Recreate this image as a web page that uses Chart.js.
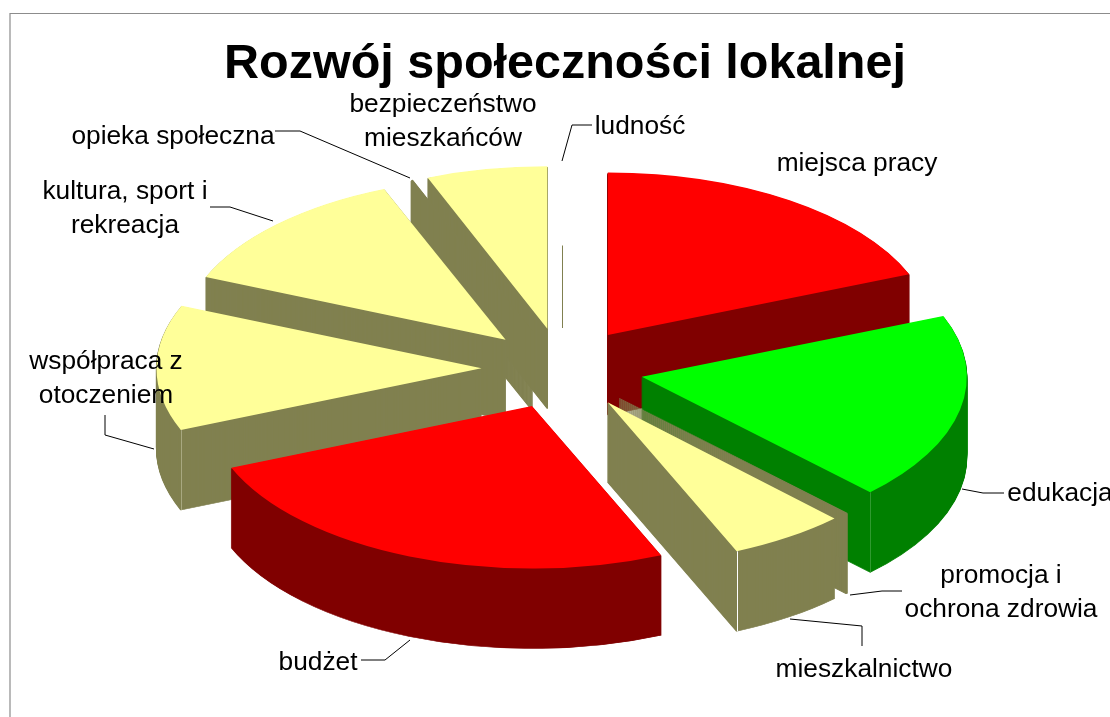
<!DOCTYPE html>
<html>
<head>
<meta charset="utf-8">
<title>Rozwój społeczności lokalnej</title>
<script src="https://cdn.jsdelivr.net/npm/chart.js@4"></script>
<style>
  html, body { margin: 0; padding: 0; background: #fff; overflow: hidden; }
  canvas { display: block; }
</style>
</head>
<body>
<canvas id="chart" width="1110" height="717"></canvas>
<script>
const chartTitle = 'Rozwój społeczności lokalnej';

const categories = [
  'ludność', 'miejsca pracy', 'edukacja', 'promocja i\nochrona zdrowia', 'mieszkalnictwo',
  'budżet', 'współpraca z\notoczeniem', 'kultura, sport i\nrekreacja', 'opieka społeczna',
  'bezpieczeństwo\nmieszkańców'
];
// share of the pie in percent
const shares = [0, 18.9, 18.7, 0.1, 5.8, 25.3, 12.5, 12.6, 0.1, 6.0];

// the two hairline slices show no top at all, only their wall
const topColors = ['#ffff99', '#ff0000', '#00ff00', '#808050', '#ffff99', '#ff0000', '#ffff99', '#ffff99', '#808050', '#ffff99'];
const sideColors = ['#808050', '#800000', '#008000', '#808050', '#808050', '#800000', '#808050', '#808050', '#808050', '#808050'];

// how the flat pie gets turned into the tilted one
const pie = { x: 562.5, y: 368.5, radius: 325, tilt: 0.5, depth: 80, explode: 81 };

// label text position (centre x, first line middle y) and its leader line
const labelSpots = [
  { x: 640, y: 127, leader: [[592, 125], [572, 125], [562, 161]] },
  { x: 857, y: 164 },
  { x: 1060, y: 494, leader: [[1004, 493], [983, 493], [962, 489]] },
  { x: 1001, y: 576, leader: [[902, 591], [882, 591], [850, 595]] },
  { x: 864, y: 670, leader: [[862, 646], [862, 626], [790, 619]] },
  { x: 318, y: 663, leader: [[361, 660], [385, 660], [410, 640]] },
  { x: 106, y: 362, leader: [[105, 415], [105, 435], [154, 449]] },
  { x: 125, y: 192, leader: [[210, 207], [230, 207], [273, 221]] },
  { x: 173, y: 137, leader: [[275, 131], [300, 131], [410, 178]] },
  { x: 443, y: 105 }
];

// thin light lines on some outer wall corners
const seams = [
  { index: 2, edge: 'endAngle', color: '#2f9a2f' },
  { index: 4, edge: 'endAngle', color: '#ffffff' },
  { index: 6, edge: 'startAngle', color: '#a8a880' }
];

function sliceOrigin(arc) {
  const mid = (arc.startAngle + arc.endAngle) / 2;
  return {
    x: pie.x + Math.cos(mid) * pie.explode,
    y: pie.y + Math.sin(mid) * pie.explode * pie.tilt
  };
}

function drawTilted(ctx, arc, drop, color) {
  const o = sliceOrigin(arc);
  const saved = arc.options;
  ctx.save();
  ctx.translate(o.x, o.y + drop);
  ctx.scale(1, pie.tilt);
  ctx.translate(-arc.x, -arc.y);
  // walls get a border too, otherwise the very thin slices wash out
  if (color) arc.options = Object.assign({}, saved, { backgroundColor: color, borderColor: color, borderWidth: 1.2 });
  arc.draw(ctx);
  arc.options = saved;
  ctx.restore();
}

const tiltedPie = {
  id: 'tiltedPie',
  beforeDraw(chart) {
    // the old frame only has a top and a left edge
    const ctx = chart.ctx;
    ctx.save();
    ctx.strokeStyle = '#8c8c8c';
    ctx.lineWidth = 1.2;
    ctx.beginPath();
    ctx.moveTo(1110, 13.5);
    ctx.lineTo(10, 13.5);
    ctx.lineTo(10, 717);
    ctx.stroke();
    ctx.restore();
  },
  beforeDatasetsDraw(chart) {
    const ctx = chart.ctx;
    const arcs = chart.getDatasetMeta(0).data;
    // back slices first
    const order = arcs.map((arc, i) => i).sort((a, b) => {
      const ma = (arcs[a].startAngle + arcs[a].endAngle) / 2;
      const mb = (arcs[b].startAngle + arcs[b].endAngle) / 2;
      return Math.sin(ma) - Math.sin(mb);
    });

    order.forEach(i => {
      const arc = arcs[i];
      const o = sliceOrigin(arc);
      if (arc.circumference === 0) {
        // empty slice: only a hairline of its wall shows
        ctx.save();
        ctx.strokeStyle = sideColors[i];
        ctx.lineWidth = 1;
        ctx.beginPath();
        ctx.moveTo(Math.floor(o.x) + 0.5, o.y - pie.radius * pie.tilt + pie.depth);
        ctx.lineTo(Math.floor(o.x) + 0.5, o.y);
        ctx.stroke();
        ctx.restore();
        return;
      }
      for (let d = pie.depth; d > 0; d--) drawTilted(ctx, arc, d, sideColors[i]);
      seams.filter(s => s.index === i).forEach(s => {
        const ex = o.x + Math.cos(arc[s.edge]) * pie.radius;
        const ey = o.y + Math.sin(arc[s.edge]) * pie.radius * pie.tilt;
        ctx.save();
        ctx.strokeStyle = s.color;
        ctx.lineWidth = 1;
        ctx.beginPath();
        ctx.moveTo(Math.round(ex) + 0.5, ey);
        ctx.lineTo(Math.round(ex) + 0.5, ey + pie.depth);
        ctx.stroke();
        ctx.restore();
      });
      drawTilted(ctx, arc, 0);
    });
    return false;
  },
  afterDraw(chart) {
    const ctx = chart.ctx;
    ctx.save();
    ctx.strokeStyle = '#000';
    ctx.lineWidth = 1;
    ctx.fillStyle = '#000';
    ctx.font = '26.3px "Liberation Sans"';
    ctx.textAlign = 'center';
    ctx.textBaseline = 'middle';
    categories.forEach((name, i) => {
      const spot = labelSpots[i];
      name.split('\n').forEach((line, n) => ctx.fillText(line, spot.x, spot.y + n * 34));
      if (spot.leader) {
        ctx.beginPath();
        spot.leader.forEach((p, n) => n ? ctx.lineTo(p[0], p[1]) : ctx.moveTo(p[0], p[1]));
        ctx.stroke();
      }
    });
    ctx.restore();
  }
};

new Chart(document.getElementById('chart'), {
  type: 'pie',
  data: {
    labels: categories,
    datasets: [{
      data: shares,
      backgroundColor: topColors,
      borderWidth: 0
    }]
  },
  options: {
    responsive: false,
    animation: false,
    events: [],
    radius: pie.radius,
    layout: { padding: { left: 20 } },
    plugins: {
      legend: { display: false },
      tooltip: { enabled: false },
      title: {
        display: true,
        text: chartTitle,
        color: '#000',
        font: { family: '"Liberation Sans"', size: 48.5, weight: 'bold' },
        padding: { top: 36, bottom: 10 }
      }
    }
  },
  plugins: [tiltedPie]
});
</script>
</body>
</html>
